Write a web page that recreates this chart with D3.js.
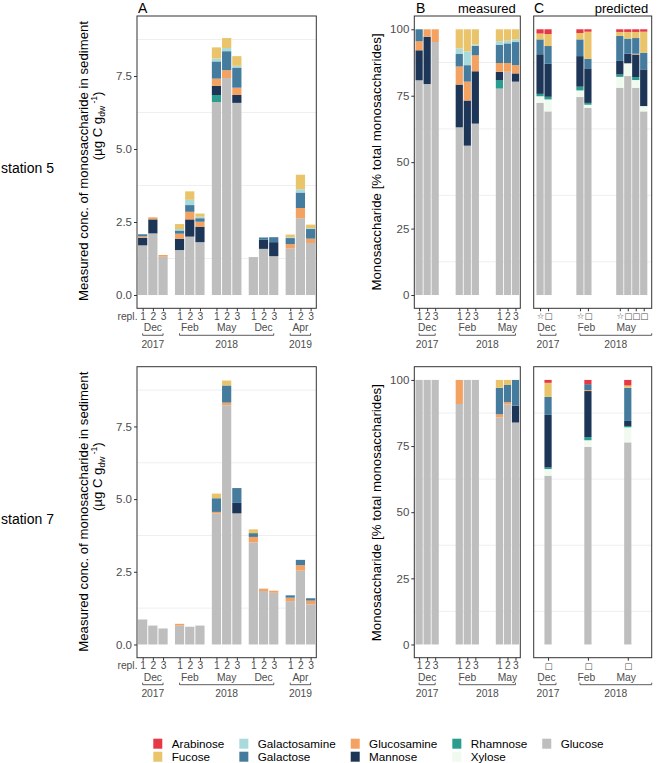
<!DOCTYPE html>
<html>
<head>
<meta charset="utf-8">
<script src="https://cdn.jsdelivr.net/npm/d3@7"></script>
<style>
  body { margin: 0; background: #fff; }
  svg { font-family: "Liberation Sans", Arial, sans-serif; }
</style>
</head>
<body>
<svg id="chart" width="658" height="763"></svg>
<script>
// stacking order, bottom -> top
const sugars = ["Glucose", "Xylose", "Rhamnose", "Mannose", "Glucosamine", "Galactose", "Galactosamine", "Fucose", "Arabinose"];
const sugarColors = ["#BEBEBE", "#F1FAEE", "#2A9D8F", "#1D3557", "#F4A261", "#457B9D", "#A8DADC", "#E9C46A", "#E63946"];
const legendOrder = ["Arabinose", "Fucose", "Galactosamine", "Galactose", "Glucosamine", "Mannose", "Rhamnose", "Xylose", "Glucose"];

const replicates = ["1", "2", "3"];
const groupsA = ["Dec 2017", "Feb 2018", "May 2018", "Dec 2018", "Apr 2019"];
const monthsA = ["Dec", "Feb", "May", "Dec", "Apr"];
const groupsB = ["Dec 2017", "Feb 2018", "May 2018"];
const monthsB = ["Dec", "Feb", "May"];
const yearsA = [["2017", 0, 0], ["2018", 1, 3], ["2019", 4, 4]];
const yearsB = [["2017", 0, 2], ["2018", 5, 12]];
const yearsC = [["2017", 0, 2], ["2018", 5, 14]];
const ticksA = [0, 2.5, 5, 7.5];
const ticksB = [0, 25, 50, 75, 100];

// columns: Glucose, Xylose, Rhamnose, Mannose, Glucosamine, Galactose, Galactosamine, Fucose, Arabinose
// A: measured concentration (µg C g-1), bars = month x replicate
const concSt5 = [
  [1.70, 0, 0, 0.26, 0.05, 0.07, 0, 0, 0],
  [2.11, 0, 0, 0.48, 0.07, 0, 0, 0, 0],
  [1.31, 0, 0, 0, 0.06, 0, 0, 0, 0],
  [1.54, 0, 0, 0.39, 0.17, 0.11, 0.05, 0.17, 0],
  [2.00, 0, 0, 0.59, 0.26, 0.23, 0.18, 0.29, 0],
  [1.81, 0, 0, 0.53, 0.17, 0.12, 0.05, 0.11, 0],
  [6.61, 0, 0.24, 0.31, 0.25, 0.59, 0.10, 0.38, 0],
  [7.43, 0, 0, 0, 0.27, 0.65, 0.11, 0.34, 0],
  [6.58, 0, 0, 0.27, 0.25, 0.69, 0.06, 0.33, 0],
  [1.30, 0, 0, 0, 0, 0, 0, 0, 0],
  [1.58, 0, 0, 0.32, 0, 0.07, 0, 0, 0],
  [1.33, 0, 0, 0.48, 0, 0.17, 0, 0, 0],
  [1.59, 0, 0, 0, 0.15, 0.21, 0.03, 0.09, 0],
  [2.63, 0, 0, 0, 0.35, 0.53, 0.11, 0.50, 0],
  [1.78, 0, 0, 0, 0.15, 0.33, 0.03, 0.12, 0]
];
const concSt7 = [
  [0.86, 0, 0, 0, 0, 0, 0, 0, 0],
  [0.65, 0, 0, 0, 0, 0, 0, 0, 0],
  [0.55, 0, 0, 0, 0, 0, 0, 0, 0],
  [0.65, 0, 0, 0, 0.06, 0, 0, 0, 0],
  [0.61, 0, 0, 0, 0, 0, 0, 0, 0],
  [0.65, 0, 0, 0, 0, 0, 0, 0, 0],
  [4.51, 0, 0, 0, 0.05, 0.47, 0, 0.16, 0],
  [8.23, 0, 0, 0, 0.09, 0.59, 0, 0.17, 0],
  [4.51, 0, 0, 0.36, 0, 0.51, 0, 0, 0],
  [3.51, 0, 0, 0, 0.19, 0.13, 0, 0.13, 0],
  [1.84, 0, 0, 0, 0.08, 0, 0, 0, 0],
  [1.78, 0, 0, 0, 0.07, 0, 0, 0, 0],
  [1.49, 0, 0, 0, 0.12, 0.08, 0, 0, 0],
  [2.54, 0, 0, 0, 0.19, 0.18, 0, 0, 0],
  [1.38, 0, 0, 0, 0.13, 0.08, 0, 0, 0]
];
// B: measured composition (%)
const measSt5 = [
  [80.8, 0, 0, 11.3, 3.4, 4.5, 0, 0, 0],
  [79.4, 0, 0, 17.8, 2.8, 0, 0, 0, 0],
  [95.2, 0, 0, 0, 4.8, 0, 0, 0, 0],
  [63.1, 0, 0, 16.1, 6.8, 4.7, 2.1, 7.2, 0],
  [56.2, 0, 0, 17.0, 7.1, 6.2, 5.2, 8.3, 0],
  [64.5, 0, 0, 19.7, 6.0, 3.6, 0.5, 5.7, 0],
  [77.7, 0, 3.2, 3.1, 3.3, 6.9, 1.3, 4.5, 0],
  [84.0, 0, 0, 0, 3.3, 7.4, 1.0, 4.3, 0],
  [80.3, 0, 0, 3.1, 3.1, 8.7, 1.0, 3.8, 0]
];
const measSt7 = [
  [100, 0, 0, 0, 0, 0, 0, 0, 0],
  [100, 0, 0, 0, 0, 0, 0, 0, 0],
  [100, 0, 0, 0, 0, 0, 0, 0, 0],
  [90.9, 0, 0, 0, 9.1, 0, 0, 0, 0],
  [100, 0, 0, 0, 0, 0, 0, 0, 0],
  [100, 0, 0, 0, 0, 0, 0, 0, 0],
  [85.8, 0, 0, 0, 1.2, 10.0, 0, 3.0, 0],
  [90.7, 0, 0, 0, 0.9, 6.5, 0, 1.9, 0],
  [83.9, 0, 0, 6.4, 0, 9.7, 0, 0, 0]
];
// C: predicted composition (%)
const predSt5 = [
  [72.3, 2.5, 0.9, 14.9, 0, 5.6, 0, 2.2, 1.6],
  [69.1, 4.5, 1.0, 12.4, 0, 6.7, 0, 4.5, 1.8],
  [74.5, 2.5, 1.4, 11.5, 0, 6.3, 0, 2.4, 1.4],
  [70.4, 1.2, 0.7, 13.0, 0, 3.6, 0, 10.2, 0.9],
  [78.0, 4.1, 0.9, 5.1, 0, 9.4, 0, 1.5, 1.0],
  [82.4, 4.8, 0, 3.6, 0, 5.7, 0, 2.5, 1.0],
  [78.0, 2.9, 1.1, 8.5, 0.3, 5.9, 0, 2.3, 1.0],
  [69.1, 2.0, 0, 13.8, 0, 6.3, 0, 7.9, 0.9]
];
const predMonthSt5 = ["Dec", "Dec", "Feb", "Feb", "May", "May", "May", "May"];
const predSymSt5 = ["☆", "□", "☆", "□", "☆", "□", "□", "□"];
const predSt7 = [
  [63.8, 2.5, 0.6, 19.9, 0, 6.8, 0, 5.3, 1.1],
  [74.7, 2.5, 1.2, 17.4, 0.4, 2.2, 0, 0, 1.6],
  [76.4, 5.7, 0.5, 1.9, 0, 12.5, 0, 0.9, 2.1]
];
const predMonthSt7 = ["Dec", "Feb", "May"];
const predSymSt7 = ["□", "□", "□"];

const font = '"Liberation Sans", Arial, sans-serif';
const grey30 = "#4D4D4D";
const frame = "#333333";
const svg = d3.select("#chart");

const xA = d3.scalePoint().domain(groupsA).range([137, 316.3]).padding(0.43);
const repA = d3.scalePoint().domain(replicates).range([-10.2, 10.2]);
const xB = d3.scaleLinear().domain([-0.6, 12.6]).range([414.3, 520.3]);
const xC = d3.scaleLinear().domain([-0.8, 14]).range([533.7, 651.7]);
const panelA = [137, 316.3], panelB = [414.3, 520.3], panelC = [533.7, 651.7];

// bar centres
const barsA = groupsA.flatMap(g => replicates.map(r => ({ id: g + "|" + r, label: r, x: xA(g) + repA(r) })));
const barsB = groupsB.flatMap((g, gi) => replicates.map((r, ri) => ({ id: g + "|" + r, label: r, x: xB(gi * 5 + ri) })));
function barsC(months, syms) {
  const count = {};
  return months.map((m, i) => {
    const gi = monthsB.indexOf(m);
    let ri = 0;
    if (syms[i] !== "☆") { count[m] = (count[m] || 0) + 1; ri = count[m]; }
    return { id: m + "|" + i, label: syms[i], x: xC(gi * 5 + ri) };
  });
}

function stackRows(rows) {
  return rows.map(row => {
    let acc = 0;
    return row.map((v, k) => {
      const s = { key: sugars[k], y0: acc, y1: acc + v };
      acc += v;
      return s;
    }).filter(s => s.y1 > s.y0);
  });
}

function drawPanel(o) {
  const g = svg.append("g");
  const [x0, x1] = o.xr;
  // minor grid lines only (as in reference)
  g.selectAll(".grid").data(o.grid).join("line")
    .attr("x1", x0).attr("x2", x1)
    .attr("y1", d => o.y(d)).attr("y2", d => o.y(d))
    .attr("stroke", "#EBEBEB").attr("stroke-width", 0.8);

  const stacks = stackRows(o.rows);
  g.selectAll(".bar").data(stacks).join("g")
    .attr("class", "bar")
    .each(function (segs, i) {
      d3.select(this).selectAll("rect").data(segs).join("rect")
        .attr("x", o.bars[i].x - o.w / 2)
        .attr("width", o.w)
        .attr("y", d => o.y(d.y1))
        .attr("height", d => o.y(d.y0) - o.y(d.y1))
        .attr("fill", d => sugarColors[sugars.indexOf(d.key)]);
    });

  g.append("rect")
    .attr("x", x0).attr("y", o.top)
    .attr("width", x1 - x0).attr("height", o.bottom - o.top)
    .attr("fill", "none").attr("stroke", frame).attr("stroke-width", 1);

  // x axis
  const sc = d3.scaleOrdinal().domain(o.bars.map(b => b.id)).range(o.bars.map(b => b.x));
  const labelOf = new Map(o.bars.map(b => [b.id, b.label]));
  const ax = g.append("g").attr("transform", `translate(0,${o.bottom})`)
    .call(d3.axisBottom(sc).tickSize(3).tickPadding(o.symPad || 1).tickFormat(d => labelOf.get(d)));
  ax.select(".domain").remove();
  ax.selectAll("line").attr("stroke", frame);
  ax.selectAll("text").attr("fill", grey30)
    .style("font-size", (o.symSize || 10.3) + "px")
    .style("font-family", o.symSize ? '"DejaVu Sans", sans-serif' : font);

  // months
  g.selectAll(".month").data(o.months).join("text")
    .attr("x", d => d[1]).attr("y", o.bottom + 23)
    .attr("text-anchor", "middle").attr("fill", grey30)
    .style("font-size", "10.3px").text(d => d[0]);

  // year brackets
  const yb = o.bottom + 27;
  o.years.forEach(([yr, a, b]) => {
    g.append("path")
      .attr("d", `M${a},${yb - 2}V${yb}H${b}V${yb - 2}`)
      .attr("fill", "none").attr("stroke", frame).attr("stroke-width", 0.8);
    g.append("text").attr("x", (a + b) / 2).attr("y", o.bottom + 39.7)
      .attr("text-anchor", "middle").attr("fill", grey30)
      .style("font-size", "10.3px").text(yr);
  });

  if (o.yticks) {
    const ya = g.append("g").attr("transform", `translate(${x0},0)`)
      .call(d3.axisLeft(o.y).tickValues(o.yticks).tickFormat(o.fmt).tickSize(3).tickPadding(2));
    ya.select(".domain").remove();
    ya.selectAll("line").attr("stroke", frame);
    ya.selectAll("text").attr("fill", grey30).style("font-size", "11.5px").style("font-family", font);
  }
  return g;
}

const stations = [
  { name: "station 5", top: 16, bottom: 308.3, conc: concSt5, meas: measSt5, pred: predSt5, pm: predMonthSt5, ps: predSymSt5 },
  { name: "station 7", top: 366.7, bottom: 657.7, conc: concSt7, meas: measSt7, pred: predSt7, pm: predMonthSt7, ps: predSymSt7 }
];

stations.forEach(st => {
  const yConc = d3.scaleLinear().domain([-0.455, 9.555]).range([st.bottom, st.top]);
  const yPct = d3.scaleLinear().domain([-5, 105]).range([st.bottom, st.top]);

  drawPanel({
    xr: panelA, top: st.top, bottom: st.bottom, y: yConc, rows: st.conc, bars: barsA, w: 9.2,
    grid: [1.25, 3.75, 6.25, 8.75], yticks: ticksA, fmt: d3.format(".1f"),
    months: monthsA.map((m, i) => [m, xA(groupsA[i])]),
    years: yearsA.map(([yr, a, b]) => [yr, xA(groupsA[a]) + repA("1"), xA(groupsA[b]) + repA("3")])
  });
  svg.append("text").attr("x", 137.5).attr("y", st.bottom + 11.3)
    .attr("text-anchor", "end").attr("fill", grey30).style("font-size", "10.3px").text("repl.");

  drawPanel({
    xr: panelB, top: st.top, bottom: st.bottom, y: yPct, rows: st.meas, bars: barsB, w: 7.2,
    grid: [12.5, 37.5, 62.5, 87.5], yticks: ticksB, fmt: d3.format("d"),
    months: monthsB.map((m, i) => [m, xB(i * 5 + 1)]),
    years: yearsB.map(([yr, a, b]) => [yr, xB(a), xB(b)])
  });

  drawPanel({
    xr: panelC, top: st.top, bottom: st.bottom, y: yPct, rows: st.pred, bars: barsC(st.pm, st.ps), w: 7.2,
    grid: [12.5, 37.5, 62.5, 87.5], symSize: 8.5, symPad: 2,
    months: monthsB.map((m, i) => [m, xC(i * 5 + 0.8)]),
    years: yearsC.map(([yr, a, b]) => [yr, xC(a), xC(b)])
  });

  // row label
  svg.append("text").attr("x", 1).attr("y", st.top + 157)
    .attr("fill", "#000").style("font-size", "14px").text(st.name);

  // y titles
  svg.append("text")
    .attr("transform", `translate(88.3,${st.top + 145}) rotate(-90)`)
    .attr("text-anchor", "middle").attr("fill", "#000").style("font-size", "13.2px")
    .text("Measured conc. of monosaccharide in sediment");
  const t2 = svg.append("text")
    .attr("transform", `translate(101.5,${st.top + 110}) rotate(-90)`)
    .attr("text-anchor", "middle").attr("fill", "#000").style("font-size", "13.2px");
  t2.append("tspan").text("(µg C g");
  t2.append("tspan").attr("dy", 3).style("font-size", "8.5px").text("dw");
  t2.append("tspan").attr("dy", -8).style("font-size", "8.5px").text(" -1");
  t2.append("tspan").attr("dy", 5).text(")");

  svg.append("text")
    .attr("transform", `translate(381.2,${st.top + 146}) rotate(-90)`)
    .attr("text-anchor", "middle").attr("fill", "#000").style("font-size", "13.3px")
    .text("Monosaccharide [% total monosaccharides]");
});

// panel headings
const heads = [["A", 138, "start", 14], ["B", 416, "start", 14], ["measured", 515.7, "end", 13], ["C", 534, "start", 14], ["predicted", 648.3, "end", 13]];
svg.selectAll(".head").data(heads).join("text")
  .attr("x", d => d[1]).attr("y", 12.5).attr("text-anchor", d => d[2])
  .attr("fill", "#000").style("font-size", d => d[3] + "px").text(d => d[0]);

// legend, 2 rows filled by column
const leg = svg.append("g");
let lx = 153.3;
const cols = d3.range(Math.ceil(legendOrder.length / 2)).map(c => legendOrder.slice(c * 2, c * 2 + 2));
cols.forEach(col => {
  let maxW = 0;
  col.forEach((name, r) => {
    const ky = 738.7 + r * 13;
    leg.append("rect").attr("x", lx).attr("y", ky).attr("width", 9).attr("height", 10)
      .attr("fill", sugarColors[sugars.indexOf(name)]);
    const t = leg.append("text").attr("x", lx + 18.4).attr("y", ky + 8.8)
      .attr("fill", "#000").style("font-size", "11.7px").text(name);
    maxW = Math.max(maxW, t.node().getComputedTextLength());
  });
  lx += 18.4 + maxW + 15;
});
</script>
</body>
</html>
